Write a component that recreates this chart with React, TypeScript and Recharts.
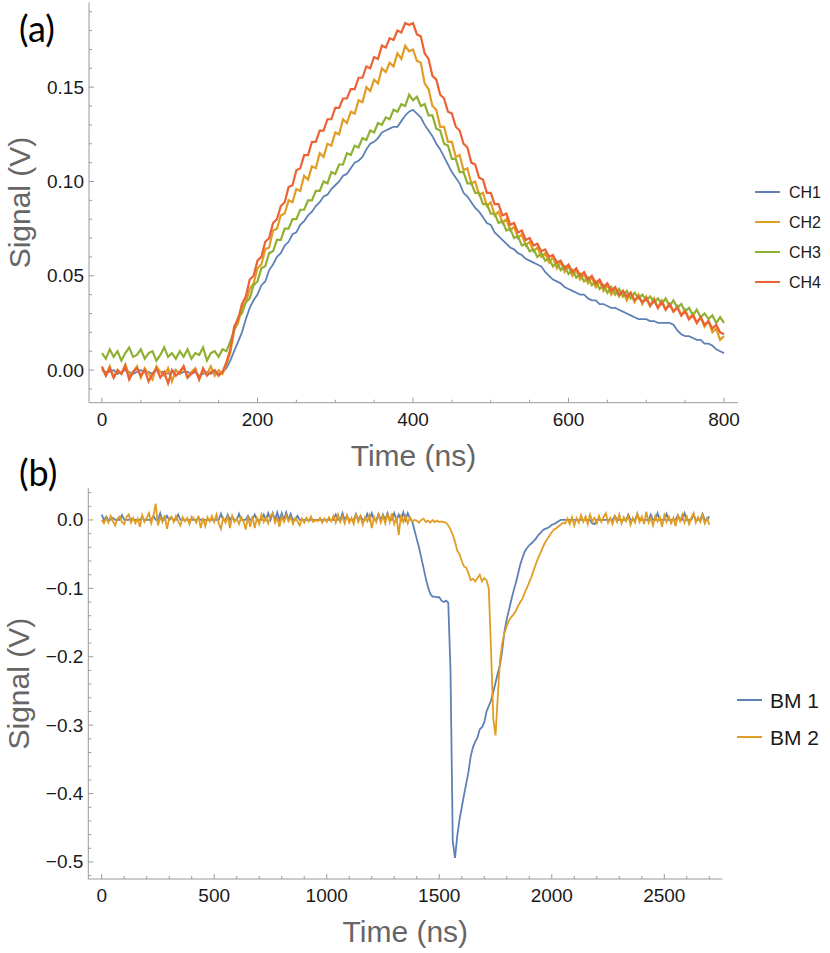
import React from 'react'
import { LineChart, Line, XAxis, YAxis } from 'recharts'

// panel (a): four channels, sampled every 5 ns, values in mV
const STEP_A = 5
const CH1 = [
  0, -1, -1, 0, -2, -1, 0, -1, -2, -1,
  0, -1, -1, -2, 0, -1, -1, -2, -1, 0,
  -2, -1, -1, -2, -1, -3, -2, -1, -2, -1,
  -2, -1, 1, 5, 10, 15, 20, 27, 33, 37,
  40, 45, 47, 53, 56, 60, 62, 66, 68, 72,
  73, 77, 79, 82, 84, 87, 89, 92, 93, 96,
  98, 100, 103, 104, 107, 110, 111, 113, 117, 120,
  121, 123, 126, 127, 128, 129, 129, 132, 135, 137,
  138, 136, 134, 130, 127, 124, 120, 117, 113, 109,
  105, 102, 99, 94, 92, 89, 86, 84, 81, 78,
  77, 73, 71, 69, 67, 65, 64, 62, 61, 59,
  58, 57, 56, 55, 52, 50, 48, 47, 46, 44,
  43, 42, 41, 40, 40, 38, 37, 37, 35, 35,
  34, 33, 33, 32, 31, 30, 29, 28, 27, 27,
  27, 26, 26, 25, 25, 25, 25, 24, 21, 19,
  18, 18, 17, 16, 16, 14, 14, 13, 11, 10,
  9,
]
const CH2 = [
  1, -3, 2, -4, 0, -2, 3, -3, -1, 2,
  -4, 1, -2, -5, 2, -1, -3, 1, -6, 0,
  -2, 2, -4, -1, 1, -5, 0, -2, 2, -3,
  0, -2, 3, 9, 21, 25, 33, 36, 43, 46,
  54, 56, 64, 65, 74, 75, 82, 83, 90, 89,
  96, 95, 103, 101, 108, 107, 115, 113, 120, 119,
  126, 125, 133, 131, 137, 136, 143, 142, 150, 148,
  154, 152, 160, 158, 163, 161, 168, 165, 172, 169,
  170, 164, 163, 152, 149, 140, 138, 129, 129, 121,
  121, 113, 114, 106, 107, 99, 100, 93, 94, 87,
  89, 82, 84, 78, 80, 74, 76, 70, 72, 66,
  68, 63, 65, 60, 62, 57, 60, 54, 57, 52,
  55, 50, 53, 48, 51, 46, 49, 44, 47, 42,
  45, 40, 43, 39, 42, 37, 41, 36, 40, 35,
  39, 34, 38, 33, 37, 32, 35, 31, 34, 29,
  32, 27, 30, 25, 28, 23, 26, 20, 22, 16,
  18,
]
const CH3 = [
  9, 6, 11, 7, 10, 5, 9, 12, 7, 8,
  11, 6, 9, 10, 5, 8, 12, 7, 9, 6,
  10, 7, 11, 6, 9, 8, 12, 5, 9, 10,
  7, 11, 10, 15, 21, 28, 30, 36, 38, 45,
  47, 54, 55, 62, 63, 69, 69, 75, 75, 80,
  80, 85, 85, 90, 90, 95, 95, 100, 99, 105,
  104, 109, 109, 115, 114, 119, 118, 123, 122, 127,
  126, 131, 130, 134, 133, 138, 137, 141, 140, 146,
  143, 145, 140, 141, 135, 135, 128, 127, 120, 119,
  112, 112, 105, 105, 99, 99, 94, 94, 88, 88,
  83, 83, 78, 79, 74, 75, 70, 71, 66, 67,
  63, 64, 60, 62, 58, 59, 55, 57, 53, 55,
  51, 53, 49, 51, 47, 49, 45, 47, 43, 45,
  41, 44, 40, 43, 39, 42, 38, 41, 38, 40,
  37, 39, 36, 38, 35, 38, 34, 37, 33, 35,
  31, 33, 29, 32, 28, 30, 27, 29, 25, 28,
  25,
]
const CH4 = [
  2, -3, 1, -4, 0, -2, 2, -5, -1, 1,
  -3, 0, -6, -2, 1, -4, -1, -7, 0, -3,
  -1, 2, -4, -2, 0, -5, 1, -3, -1, 0,
  -3, -1, 4, 11, 23, 27, 35, 39, 48, 50,
  58, 60, 68, 70, 78, 80, 87, 89, 97, 98,
  106, 107, 114, 114, 121, 121, 127, 127, 133, 133,
  139, 139, 144, 144, 149, 149, 155, 155, 161, 160,
  166, 165, 172, 171, 176, 175, 180, 179, 184, 183,
  184, 178, 177, 168, 165, 156, 154, 146, 144, 137,
  136, 129, 127, 120, 118, 110, 109, 102, 101, 94,
  94, 88, 88, 82, 83, 77, 78, 73, 74, 69,
  70, 66, 67, 63, 64, 60, 61, 57, 58, 54,
  56, 52, 54, 50, 52, 48, 50, 46, 48, 44,
  46, 42, 44, 40, 42, 39, 41, 37, 39, 36,
  38, 34, 37, 33, 36, 32, 35, 31, 33, 29,
  31, 27, 29, 25, 28, 24, 26, 22, 24, 20,
  19,
]

// panel (b): two beam monitors, sampled every 10 ns, values in mV
const STEP_B = 10
const BM1 = [
  8, 0, 5, 0, 0, 3, 0, 0, 0, 7,
  0, 0, 0, 2, 0, 0, 0, 0, 4, 0,
  0, 0, 0, 6, 0, 0, 10, 0, 0, 6,
  0, 3, 0, 0, 8, 0, 0, 0, 0, 0,
  0, 0, 0, 3, 0, 0, 0, 0, 0, 0,
  0, 0, 0, 9, 0, 0, 8, 0, 5, 0,
  0, 9, 0, 0, 0, 6, 0, 0, 8, 0,
  0, 0, 8, 0, 10, 0, 10, 0, 11, 0,
  10, 0, 11, 0, 9, 0, 0, 6, 0, 0,
  0, 0, 0, 0, 0, 0, 0, 0, 0, 0,
  0, 0, 0, 0, 8, 0, 0, 10, 0, 6,
  0, 0, 0, 9, 0, 6, 0, 0, 9, 0,
  10, 0, 0, 9, 0, 8, 0, 10, 0, 0,
  10, 0, 8, 0, 11, 0, 10, 2, -2, -15,
  -28, -40, -55, -70, -85, -98, -108, -112, -112, -113,
  -113, -118, -120, -118, -121, -220, -470, -494, -462, -438,
  -420, -402, -385, -368, -345, -332, -324, -318, -306, -303,
  -296, -280, -272, -264, -252, -238, -224, -212, -190, -162,
  -145, -131, -117, -104, -92, -79, -65, -55, -46, -41,
  -37, -34, -31, -27, -22, -19, -15, -13, -12, -10,
  -7, -6, -4, -2, 0, 0, 0, 0, 0, 0,
  0, 0, 0, 0, 0, 0, 0, 0, -5, -6,
  0, 0, 0, 0, 0, 0, 0, 0, 6, 0,
  0, 0, 0, 0, 8, 0, 0, 0, 9, 0,
  0, 0, 0, 0, 8, 0, 0, 10, 0, 0,
  0, 9, 0, 0, 0, 0, 7, 0, 0, 10,
  0, 0, 0, 8, 0, 0, 0, 9, 0, 0,
  5,
]
const BM2 = [
  0, -5, 3, -4, 6, -2, -8, 2, 5, -3,
  -6, 4, 8, -4, 3, -5, 2, -10, 7, -3,
  3, 10, -5, 6, 24, -8, 4, -3, 7, -13,
  2, 5, -3, 6, -2, -8, 4, -2, 3, -6,
  5, 2, -4, 6, -12, 3, -9, 4, -2, 6,
  -3, 8, -5, -13, 3, -4, 5, -12, 6, -3,
  2, -6, 4, -2, -14, 5, -10, 6, -12, 3,
  -6, 8, -3, 4, -5, 6, 10, -4, 3, -10,
  5, -3, 7, -2, 4, -6, 3, -2, -8, 2,
  -4, 3, -2, 5, -3, 0, -2, 3, -4, 2,
  -3, 4, -2, 6, -4, 8, -3, 5, -5, 7,
  -4, 3, -6, 9, -3, 5, -7, 4, -2, 7,
  -12, 5, -3, 8, -4, 6, -5, 9, -3, 10,
  -6, 4, -22, 8, -3, 6, -5, 4, -2, 0,
  -1, -4, 0, 2, -3, -1, -4, 0, -3, -1,
  -3, -2, -3, -4, -8, -14, -22, -32, -45, -50,
  -60, -68, -70, -78, -88, -86, -90, -85, -80, -90,
  -85, -88, -100, -190, -290, -315, -258, -205, -180, -165,
  -155, -147, -142, -138, -133, -126, -120, -115, -106, -99,
  -91, -83, -73, -64, -55, -48, -40, -33, -28, -23,
  -18, -14, -12, -9, -7, -4, -5, 2, -6, 4,
  -8, 3, -4, 7, -3, 5, -6, 8, -2, 3,
  -5, 6, -3, 4, 10, -4, 3, -6, 5, -3,
  8, -5, 4, -2, 6, -7, 3, -4, 9, -3,
  5, -6, 12, -4, 3, -8, 6, -2, 4, -10,
  7, -3, 5, -5, 3, -9, 6, -2, 8, -4,
  5, -6, 3, 10, -4, 4, -3, 7, -5, 3,
  -7,
]

// ticks ('' = minor tick without label)
const A_X_TICKS = [0, 50, 100, 150, 200, 250, 300, 350, 400, 450, 500, 550, 600, 650, 700, 750, 800]
const A_X_LABELS = ['0', '', '', '', '200', '', '', '', '400', '', '', '', '600', '', '', '', '800']
const A_Y_TICKS = [-0.01, 0, 0.01, 0.02, 0.03, 0.04, 0.05, 0.06, 0.07, 0.08, 0.09, 0.1, 0.11, 0.12, 0.13, 0.14, 0.15, 0.16, 0.17, 0.18, 0.19]
const A_Y_LABELS = ['', '0.00', '', '', '', '', '0.05', '', '', '', '', '0.10', '', '', '', '', '0.15', '', '', '', '']
const B_X_TICKS = [0, 100, 200, 300, 400, 500, 600, 700, 800, 900, 1000, 1100, 1200, 1300, 1400, 1500, 1600, 1700, 1800, 1900, 2000, 2100, 2200, 2300, 2400, 2500, 2600, 2700]
const B_X_LABELS = ['0', '', '', '', '', '500', '', '', '', '', '1000', '', '', '', '', '1500', '', '', '', '', '2000', '', '', '', '', '2500', '', '']
const B_Y_TICKS = [-0.52, -0.5, -0.48, -0.46, -0.44, -0.42, -0.4, -0.38, -0.36, -0.34, -0.32, -0.3, -0.28, -0.26, -0.24, -0.22, -0.2, -0.18, -0.16, -0.14, -0.12, -0.1, -0.08, -0.06, -0.04, -0.02, 0, 0.02, 0.04]
const B_Y_LABELS = ['', '\u22120.5', '', '', '', '', '\u22120.4', '', '', '', '', '\u22120.3', '', '', '', '', '\u22120.2', '', '', '', '', '\u22120.1', '', '', '', '', '0.0', '', '']

const CHANNELS = ['CH1', 'CH2', 'CH3', 'CH4']
const MONITORS = ['BM 1', 'BM 2']
const COLORS = ['#5E81B5', '#E19C24', '#8FB032', '#EB6235']

const FONT = '"Liberation Sans", Arial, sans-serif'
const FRAME = '#9a9a9a'

const dataA = CH1.map((v, i) => ({
  t: i * STEP_A,
  ch1: v / 1000,
  ch2: CH2[i] / 1000,
  ch3: CH3[i] / 1000,
  ch4: CH4[i] / 1000,
}))

const dataB = BM1.map((v, i) => ({
  t: i * STEP_B,
  bm1: v / 1000,
  bm2: BM2[i] / 1000,
}))

type Side = 'bottom' | 'top' | 'left' | 'right'

// inward ticks on every side of the frame, labels only on bottom/left
function frameTick(side: Side, ticks: number[], labels: string[]) {
  return (props: any) => {
    const { x, y, payload } = props
    const i = ticks.findIndex((t) => Math.abs(t - payload.value) < 1e-9)
    const label = i >= 0 ? labels[i] : ''
    const len = label ? 5 : 3
    let line
    if (side === 'bottom') line = <line x1={x} y1={y} x2={x} y2={y - len} stroke={FRAME} />
    else if (side === 'top') line = <line x1={x} y1={y} x2={x} y2={y + len} stroke={FRAME} />
    else if (side === 'left') line = <line x1={x} y1={y} x2={x + len} y2={y} stroke={FRAME} />
    else line = <line x1={x} y1={y} x2={x - len} y2={y} stroke={FRAME} />
    return (
      <g>
        {line}
        {side === 'bottom' && label && (
          <text x={x} y={y + 23} textAnchor="middle" fontSize={19} fontFamily={FONT} fill="#1a1a1a">
            {label}
          </text>
        )}
        {side === 'left' && label && (
          <text x={x - 5} y={y + 6.5} textAnchor="end" fontSize={19} fontFamily={FONT} fill="#1a1a1a">
            {label}
          </text>
        )}
      </g>
    )
  }
}

const xTitle = (text: string) => (props: any) => {
  const vb = props.viewBox
  return (
    <text x={vb.x + vb.width / 2} y={vb.y + 63} textAnchor="middle" fontSize={30} fontFamily={FONT} fill="#666">
      {text}
    </text>
  )
}

const yTitle = (text: string) => (props: any) => {
  const vb = props.viewBox
  const cx = vb.x + 1
  const cy = vb.y + vb.height / 2
  return (
    <text transform={`translate(${cx},${cy}) rotate(-90)`} textAnchor="middle" fontSize={30} fontFamily={FONT} fill="#666">
      {text}
    </text>
  )
}

export default function App() {
  return (
    <div style={{ position: 'absolute', left: 0, top: 0, width: 830, height: 953, background: '#fff' }}>
      <div style={{ position: 'absolute', left: 0, top: 0 }}>
        <LineChart width={830} height={480} data={dataA} margin={{ top: 2.3, right: 92, bottom: 7.3, left: 29 }}>
          <XAxis
            xAxisId="b"
            dataKey="t"
            type="number"
            domain={[-16.7, 818]}
            allowDataOverflow
            ticks={A_X_TICKS}
            interval={0}
            height={70}
            tickSize={0}
            tickMargin={0}
            tickLine={false}
            axisLine={{ stroke: FRAME }}
            tick={frameTick('bottom', A_X_TICKS, A_X_LABELS)}
            label={{ content: xTitle('Time (ns)') }}
          />
          <XAxis
            xAxisId="t"
            orientation="top"
            dataKey="t"
            type="number"
            domain={[-16.7, 818]}
            allowDataOverflow
            ticks={A_X_TICKS}
            interval={0}
            height={0}
            tickSize={0}
            tickMargin={0}
            tickLine={false}
            axisLine={{ stroke: FRAME }}
            tick={frameTick('top', A_X_TICKS, A_X_LABELS)}
          />
          <YAxis
            yAxisId="l"
            type="number"
            domain={[-0.0173, 0.195]}
            allowDataOverflow
            ticks={A_Y_TICKS}
            interval={0}
            width={60}
            tickSize={0}
            tickMargin={0}
            tickLine={false}
            axisLine={{ stroke: FRAME }}
            tick={frameTick('left', A_Y_TICKS, A_Y_LABELS)}
            label={{ content: yTitle('Signal (V)') }}
          />
          <YAxis
            yAxisId="r"
            orientation="right"
            type="number"
            domain={[-0.0173, 0.195]}
            allowDataOverflow
            ticks={A_Y_TICKS}
            interval={0}
            width={0}
            tickSize={0}
            tickMargin={0}
            tickLine={false}
            axisLine={{ stroke: FRAME }}
            tick={frameTick('right', A_Y_TICKS, A_Y_LABELS)}
          />
          {['ch1', 'ch2', 'ch3', 'ch4'].map((k, i) => (
            <Line
              key={k}
              xAxisId="b"
              yAxisId="l"
              dataKey={k}
              type="linear"
              stroke={COLORS[i]}
              strokeWidth={i === 0 ? 1.8 : 2.2}
              dot={false}
              isAnimationActive={false}
            />
          ))}
        </LineChart>
      </div>

      <div style={{ position: 'absolute', left: 0, top: 450 }}>
        <LineChart width={830} height={503} data={dataB} margin={{ top: 38.3, right: 107.7, bottom: 4, left: 28.3 }}>
          <XAxis
            xAxisId="b"
            dataKey="t"
            type="number"
            domain={[-59.5, 2757.7]}
            allowDataOverflow
            ticks={B_X_TICKS}
            interval={0}
            height={70}
            tickSize={0}
            tickMargin={0}
            tickLine={false}
            axisLine={{ stroke: FRAME }}
            tick={frameTick('bottom', B_X_TICKS, B_X_LABELS)}
            label={{ content: xTitle('Time (ns)') }}
          />
          <XAxis
            xAxisId="t"
            orientation="top"
            dataKey="t"
            type="number"
            domain={[-59.5, 2757.7]}
            allowDataOverflow
            ticks={B_X_TICKS}
            interval={0}
            height={0}
            tickSize={0}
            tickMargin={0}
            tickLine={false}
            axisLine={{ stroke: FRAME }}
            tick={frameTick('top', B_X_TICKS, B_X_LABELS)}
          />
          <YAxis
            yAxisId="l"
            type="number"
            domain={[-0.5249, 0.0463]}
            allowDataOverflow
            ticks={B_Y_TICKS}
            interval={0}
            width={60}
            tickSize={0}
            tickMargin={0}
            tickLine={false}
            axisLine={{ stroke: FRAME }}
            tick={frameTick('left', B_Y_TICKS, B_Y_LABELS)}
            label={{ content: yTitle('Signal (V)') }}
          />
          <YAxis
            yAxisId="r"
            orientation="right"
            type="number"
            domain={[-0.5249, 0.0463]}
            allowDataOverflow
            ticks={B_Y_TICKS}
            interval={0}
            width={0}
            tickSize={0}
            tickMargin={0}
            tickLine={false}
            axisLine={{ stroke: FRAME }}
            tick={frameTick('right', B_Y_TICKS, B_Y_LABELS)}
          />
          {['bm1', 'bm2'].map((k, i) => (
            <Line
              key={k}
              xAxisId="b"
              yAxisId="l"
              dataKey={k}
              type="linear"
              stroke={COLORS[i]}
              strokeWidth={1.8}
              dot={false}
              isAnimationActive={false}
            />
          ))}
        </LineChart>
      </div>

      {/* panel letters and legends */}
      <svg width={830} height={953} style={{ position: 'absolute', left: 0, top: 0, pointerEvents: 'none' }}>
        <text x={19} y={42} fontSize={36} fontFamily="Lato, sans-serif" fill="#000">(a)</text>
        <text x={19} y={486} fontSize={36} fontFamily="Lato, sans-serif" fill="#000">(b)</text>
        {CHANNELS.map((name, i) => (
          <g key={name}>
            <line x1={755} x2={780} y1={192 + i * 30} y2={192 + i * 30} stroke={COLORS[i]} strokeWidth={2} />
            <text x={789} y={197.5 + i * 30} fontSize={16} fontFamily={FONT} fill="#1a1a1a">{name}</text>
          </g>
        ))}
        {MONITORS.map((name, i) => (
          <g key={name}>
            <line x1={737} x2={762} y1={700 + i * 37} y2={700 + i * 37} stroke={COLORS[i]} strokeWidth={2} />
            <text x={770} y={707.5 + i * 37} fontSize={21} fontFamily={FONT} fill="#1a1a1a">{name}</text>
          </g>
        ))}
      </svg>
    </div>
  )
}
